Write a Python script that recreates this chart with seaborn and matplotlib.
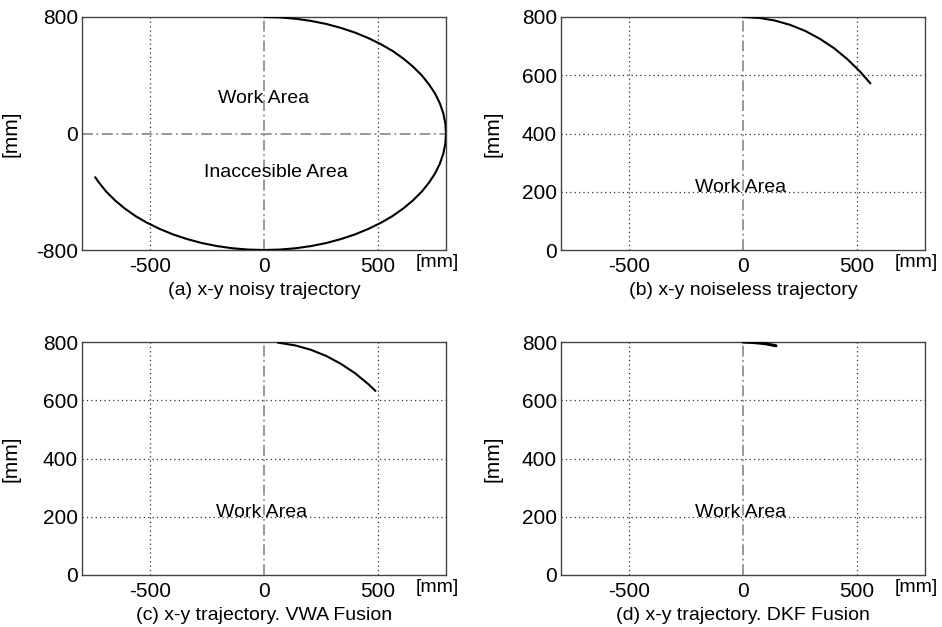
import matplotlib
matplotlib.use("Agg")
import matplotlib.pyplot as plt
import seaborn as sns
import pandas as pd

sns.set_style("white")
plt.rcParams['font.family'] = ['Liberation Sans', 'DejaVu Sans']
plt.rcParams['axes.unicode_minus'] = False
plt.rcParams['text.color'] = 'black'
plt.rcParams['xtick.color'] = 'black'
plt.rcParams['ytick.color'] = 'black'
plt.rcParams['axes.labelcolor'] = 'black'

# ---- data ----
# (a) noisy trajectory
a_x = [0, 70, 139, 207, 274, 338, 400, 459, 514, 566, 613, 655, 693, 725, 752, 773,
       788, 797, 800, 797, 788, 773, 752, 725, 693, 655, 613, 566, 514, 459, 400, 338,
       274, 207, 139, 70, 0, -70, -139, -207, -274, -338, -400, -459, -514, -566, -613,
       -655, -693, -725, -742]
a_y = [800, 797, 788, 773, 752, 725, 693, 655, 613, 566, 514, 459, 400, 338, 274, 207,
       139, 70, 0, -70, -139, -207, -274, -338, -400, -459, -514, -566, -613, -655, -693, -725,
       -752, -773, -788, -797, -800, -797, -788, -773, -752, -725, -693, -655, -613, -566, -514,
       -459, -400, -338, -300]
# (b) noiseless trajectory
b_x = [0, 70, 139, 207, 274, 338, 400, 459, 514, 560]
b_y = [800, 797, 788, 773, 752, 725, 693, 655, 613, 572]
# (c) VWA fusion
c_x = [60, 139, 207, 274, 338, 400, 459, 490]
c_y = [798, 788, 773, 752, 725, 693, 655, 632]
# (d) DKF fusion
d_x = [0, 50, 100, 145]
d_y = [800, 798, 794, 787]

captions = ["(a) x-y noisy trajectory", "(b) x-y noiseless trajectory",
            "(c) x-y trajectory. VWA Fusion", "(d) x-y trajectory. DKF Fusion"]
xticks = [-500, 0, 500]
yticks_a = [-800, 0, 800]
yticks_b = [0, 200, 400, 600, 800]

W, H = 942, 627
fig = plt.figure(figsize=(W / 100, H / 100), dpi=100)

boxes = [(82, 17), (561, 17), (82, 342), (561, 342)]
aw, ah = 364, 233
series = [(a_x, a_y), (b_x, b_y), (c_x, c_y), (d_x, d_y)]

FS = 14
TFS = 15
ZLS = (0, (6, 2, 1, 2))
for i, ((lx, ty), (xs, ys), cap) in enumerate(zip(boxes, series, captions)):
    ax = fig.add_axes([lx / W, 1 - (ty + ah) / H, aw / W, ah / H])
    df = pd.DataFrame({"x": xs, "y": ys})
    ax.set_xlim(-800, 800)
    if i == 0:
        ax.set_ylim(-800, 800)
        ax.set_yticks(yticks_a)
    else:
        ax.set_ylim(0, 800)
        ax.set_yticks(yticks_b)
    ax.set_xticks(xticks)
    # grid lines
    for xv in [-500, 500]:
        ax.axvline(xv, color="#333333", lw=0.9, ls=(0, (1, 2.5)), zorder=1)
    if i != 0:
        for yv in [200, 400, 600]:
            ax.axhline(yv, color="#333333", lw=0.9, ls=(0, (1, 2.5)), zorder=1)
    ax.axvline(0, color="#909090", lw=1.3, ls=ZLS, zorder=2)
    if i == 0:
        ax.axhline(0, color="#909090", lw=1.3, ls=ZLS, zorder=2)

    sns.lineplot(data=df, x="x", y="y", sort=False, estimator=None, ax=ax,
                 color="black", lw=2.2 if i == 3 else 1.5, zorder=3)

    ax.set_xlabel("")
    ax.set_ylabel("[mm]", fontsize=15)
    ax.yaxis.set_label_coords((-62 if i % 2 == 0 else -58) / aw, 0.5)
    ax.tick_params(axis="both", labelsize=TFS, direction="in", length=0)
    ax.tick_params(axis="x", pad=5)
    ax.tick_params(axis="y", pad=3)
    for s in ax.spines.values():
        s.set_color("#444444")
        s.set_linewidth(1.0)

    ax.text(0.975, -0.055, "[mm]", transform=ax.transAxes, ha="center", va="center",
            fontsize=FS)
    ax.text(0.5, -0.172, cap, transform=ax.transAxes, ha="center", va="center",
            fontsize=FS)

    if i == 0:
        ax.text(0, 240, "Work Area", ha="center", va="center", fontsize=FS, zorder=4)
        ax.text(53, -268, "Inaccesible Area", ha="center", va="center", fontsize=FS, zorder=4)
    else:
        ax.text(-10, 214, "Work Area", ha="center", va="center", fontsize=FS, zorder=4)

fig.savefig("out.png", dpi=100)
